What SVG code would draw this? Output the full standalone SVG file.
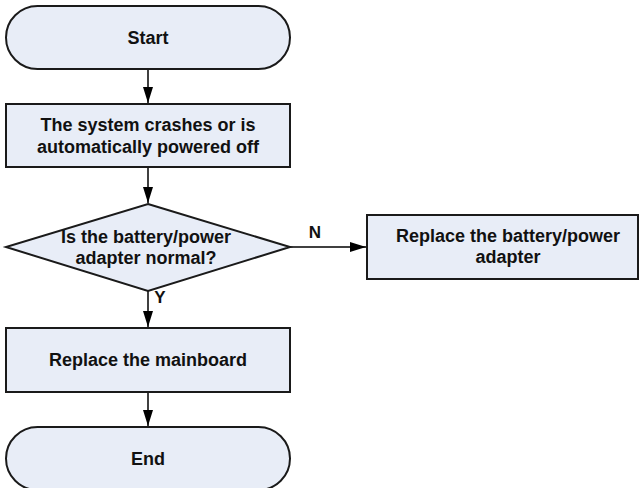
<svg xmlns="http://www.w3.org/2000/svg" width="639" height="488" viewBox="0 0 639 488">
<defs>
<marker id="arr" markerWidth="16" markerHeight="10" refX="16" refY="5" orient="auto" markerUnits="userSpaceOnUse">
<path d="M0,0 L16,5 L0,10 Z" fill="#000"/>
</marker>
<style>
.n{fill:#e8edf7;stroke:#1a1a1a;stroke-width:2}
.t{font-family:"Liberation Sans",Arial,sans-serif;font-weight:bold;font-size:18px;fill:#111;text-anchor:middle}
.c{stroke:#000;stroke-width:1.5;fill:none;marker-end:url(#arr)}
</style>
</defs>
<rect width="639" height="488" fill="#fff"/>
<g id="connectors">
<line class="c" x1="148" y1="69" x2="148" y2="103"/>
<line class="c" x1="148" y1="167" x2="148" y2="203"/>
<line class="c" x1="290" y1="247" x2="366" y2="247"/>
<line class="c" x1="148" y1="291" x2="148" y2="327"/>
<line class="c" x1="148" y1="392" x2="148" y2="426"/>
<text class="t" x="315" y="238" style="font-size:17px">N</text>
<text class="t" x="160" y="303" style="font-size:17px">Y</text>
</g>
<g id="start">
<rect class="n" x="6" y="6" width="284" height="63" rx="31.5"/>
<text class="t" x="148" y="44">Start</text>
</g>
<g id="crash">
<rect class="n" x="6" y="104" width="284" height="63"/>
<text class="t" x="148" y="131">The system crashes or is</text>
<text class="t" x="148" y="153">automatically powered off</text>
</g>
<g id="decision">
<polygon class="n" points="148,204 290,247 148,291 6,247"/>
<text class="t" x="146" y="243">Is the battery/power</text>
<text class="t" x="146" y="264">adapter normal?</text>
</g>
<g id="replace-battery">
<rect class="n" x="367" y="215" width="271" height="64"/>
<text class="t" x="508" y="242">Replace the battery/power</text>
<text class="t" x="508" y="263">adapter</text>
</g>
<g id="mainboard">
<rect class="n" x="6" y="328" width="284" height="64"/>
<text class="t" x="148" y="366">Replace the mainboard</text>
</g>
<g id="end">
<rect class="n" x="6" y="427" width="284" height="63" rx="31.5"/>
<text class="t" x="148" y="465">End</text>
</g>
</svg>
